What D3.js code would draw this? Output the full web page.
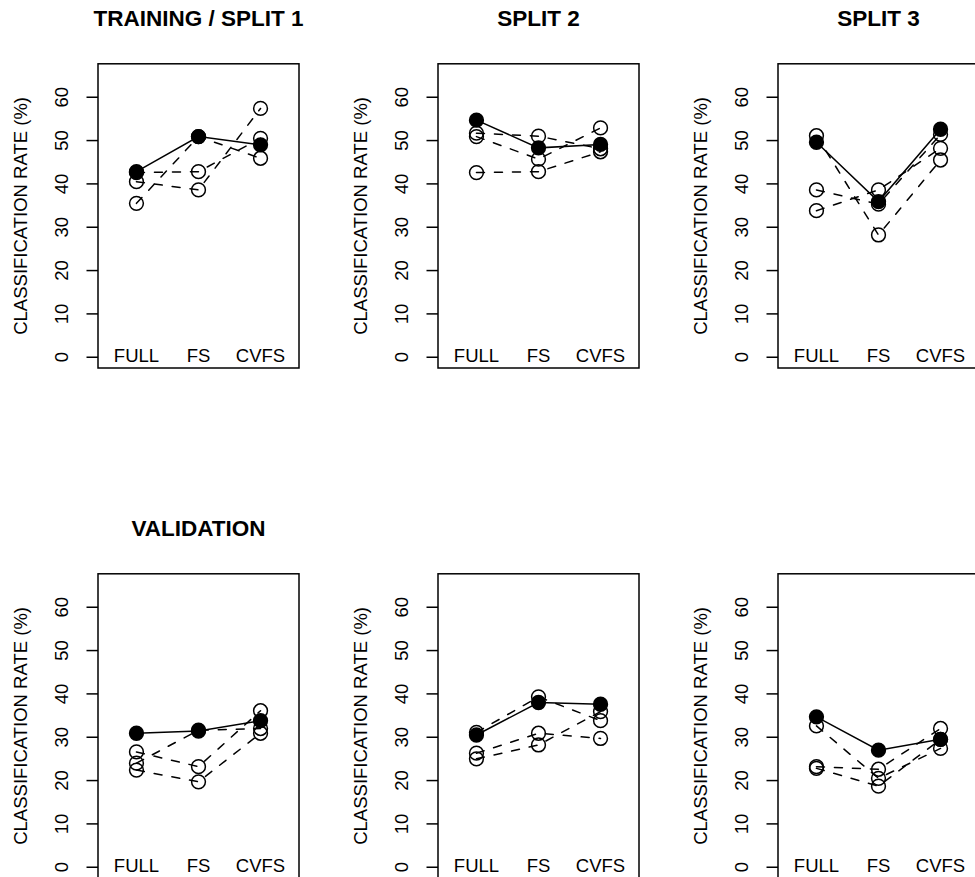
<!DOCTYPE html>
<html>
<head>
<meta charset="utf-8">
<script src="https://cdn.jsdelivr.net/npm/d3@7"></script>
<style>
  html, body { margin: 0; padding: 0; background: #fff; }
  svg { display: block; font-family: "Liberation Sans", Arial, Helvetica, sans-serif; }
</style>
</head>
<body>
<script>
// ---------------- DATA ----------------
const categories = ["FULL", "FS", "CVFS"];
const yTicks = [0, 10, 20, 30, 40, 50, 60];
const yLabel = "CLASSIFICATION RATE (%)";
const panelTitles = ["TRAINING / SPLIT 1", "SPLIT 2", "SPLIT 3", "VALIDATION", "", ""];

// solid series (filled points) per panel
const split1Main = [42.7, 50.8, 48.9];
const split2Main = [54.6, 48.2, 49.0];
const split3Main = [49.5, 35.8, 52.5];
const valid1Main = [30.8, 31.3, 33.7];
const valid2Main = [30.4, 37.9, 37.5];
const valid3Main = [34.6, 26.9, 29.4];

// dashed series (open points) per panel
const split1Alt = [[35.4, 50.8, 45.8], [40.4, 38.5, 57.3], [42.5, 42.7, 50.4]];
const split2Alt = [[42.5, 42.7, 47.3], [51.6, 50.9, 48.0], [50.8, 45.6, 52.8]];
const split3Alt = [[51.0, 28.1, 45.4], [38.5, 35.2, 51.3], [33.7, 38.5, 48.1]];
const valid1Alt = [[23.9, 31.5, 31.9], [26.5, 23.1, 36.0], [22.3, 19.6, 30.8]];
const valid2Alt = [[31.0, 39.2, 33.7], [26.2, 30.8, 29.6], [24.9, 28.1, 35.8]];
const valid3Alt = [[32.5, 20.4, 27.3], [23.1, 22.5, 31.9], [22.7, 18.6, 29.4]];

const panels = [
  { title: panelTitles[0], main: split1Main, alt: split1Alt },
  { title: panelTitles[1], main: split2Main, alt: split2Alt },
  { title: panelTitles[2], main: split3Main, alt: split3Alt },
  { title: panelTitles[3], main: valid1Main, alt: valid1Alt },
  { title: panelTitles[4], main: valid2Main, alt: valid2Alt },
  { title: panelTitles[5], main: valid3Main, alt: valid3Alt }
];

// ---------------- LAYOUT ----------------
const W = 975, H = 877;
const panelW = 340, panelH = 510;
const plotLeft = 98, plotRight = 299, plotTop = 63.8, plotBottom = 368;
const fontSize = 18.5, titleSize = 22.5;
const rPt = 6.9, lw = 1.5;

const svg = d3.select("body").append("svg")
  .attr("width", W).attr("height", H)
  .attr("viewBox", `0 0 ${W} ${H}`);
svg.append("rect").attr("width", W).attr("height", H).attr("fill", "#fff");

const x = d3.scalePoint().domain(categories).range([0, 0]); // placeholder
panels.forEach((p, i) => {
  const col = i % 3, row = Math.floor(i / 3);
  const ox = col * panelW, oy = row * panelH;
  const g = svg.append("g").attr("transform", `translate(${ox},${oy})`);

  // x: categories at 1..3, limits 0.5..3.5 padded 4%
  const xs = d3.scaleLinear().domain([0.5 - 0.12, 3.5 + 0.12]).range([plotLeft, plotRight]);
  const xc = c => xs(categories.indexOf(c) + 1);
  const ys = d3.scaleLinear().domain([0 - 2.6, 65 + 2.6]).range([plotBottom, plotTop]);

  // box
  g.append("rect")
    .attr("x", plotLeft).attr("y", plotTop)
    .attr("width", plotRight - plotLeft).attr("height", plotBottom - plotTop)
    .attr("fill", "none").attr("stroke", "#000").attr("stroke-width", lw);

  // y axis (ticks outward, rotated labels)
  const yAxis = d3.axisLeft(ys).tickValues(yTicks).tickSize(11.5).tickPadding(0).tickFormat(d3.format("d"));
  const ax = g.append("g").attr("transform", `translate(${plotLeft},0)`).call(yAxis);
  ax.select(".domain").remove();
  ax.selectAll(".tick line").attr("stroke", "#000").attr("stroke-width", lw);
  ax.selectAll(".tick text")
    .attr("x", null).attr("dy", null)
    .attr("text-anchor", "middle")
    .attr("transform", "translate(-30,0) rotate(-90)")
    .attr("fill", "#000")
    .style("font-size", fontSize + "px")
    .style("font-family", "'Liberation Sans', Arial, sans-serif");

  // y label
  g.append("text")
    .attr("transform", `translate(${plotLeft - 71.5},${(plotTop + plotBottom) / 2}) rotate(-90)`)
    .attr("text-anchor", "middle")
    .style("font-size", fontSize + "px")
    .text(yLabel);

  // category labels inside plot at y = 0
  g.selectAll(".cat").data(categories).enter().append("text")
    .attr("x", d => xc(d)).attr("y", ys(0) + 5)
    .attr("text-anchor", "middle")
    .style("font-size", fontSize + "px")
    .text(d => d);

  // title
  if (p.title) {
    g.append("text")
      .attr("x", (plotLeft + plotRight) / 2).attr("y", 26)
      .attr("text-anchor", "middle")
      .style("font-size", titleSize + "px").style("font-weight", "bold")
      .text(p.title);
  }

  const line = d3.line().x((d, j) => xc(categories[j])).y(d => ys(d));

  // dashed series
  p.alt.forEach(s => {
    g.append("path").attr("d", line(s))
      .attr("fill", "none").attr("stroke", "#000").attr("stroke-width", lw)
      .attr("stroke-dasharray", "8,10").attr("stroke-linecap", "round");
  });
  p.alt.forEach(s => {
    g.selectAll(null).data(s).enter().append("circle")
      .attr("cx", (d, j) => xc(categories[j])).attr("cy", d => ys(d))
      .attr("r", rPt).attr("fill", "none").attr("stroke", "#000").attr("stroke-width", lw);
  });

  // solid series
  g.append("path").attr("d", line(p.main))
    .attr("fill", "none").attr("stroke", "#000").attr("stroke-width", lw);
  g.selectAll(null).data(p.main).enter().append("circle")
    .attr("cx", (d, j) => xc(categories[j])).attr("cy", d => ys(d))
    .attr("r", rPt).attr("fill", "#000").attr("stroke", "#000").attr("stroke-width", lw);
});
</script>
</body>
</html>
